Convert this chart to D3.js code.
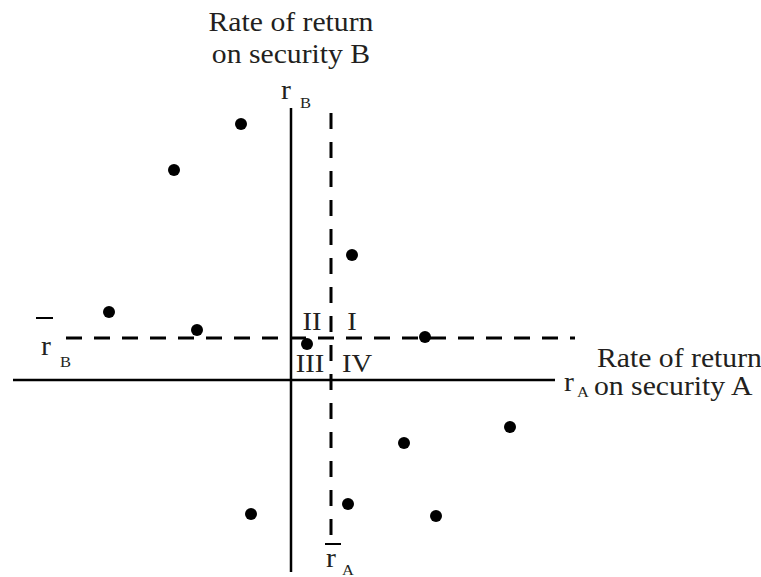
<!DOCTYPE html>
<html>
<head>
<meta charset="utf-8">
<script src="https://cdn.jsdelivr.net/npm/d3@7"></script>
<style>
  html, body { margin: 0; padding: 0; background: #fff; }
  svg { display: block; }
  text { font-family: "Liberation Serif", "Times New Roman", serif; fill: #231f20; }
</style>
</head>
<body>
<svg id="chart" width="761" height="577"></svg>
<script>
// Scatter of returns on securities A and B (arbitrary units, origin at axes crossing)
const returnsA = [-2.5, -5.85, 3.05, 6.7, -9.1, -4.7, 0.8, 5.65, 10.95, -2.0, 2.85, 7.25];
const returnsB = [12.8, 10.5, 6.25, 2.15, 3.4, 2.5, 1.8, -3.15, -2.35, -6.7, -6.2, -6.8];
const meanA = 2.0;
const meanB = 2.1;
const quadrantLabels = ["I", "II", "III", "IV"];
const axisTitleA = ["Rate of return", "on security A"];
const axisTitleB = ["Rate of return", "on security B"];

const svg = d3.select("#chart");
const x = d3.scaleLinear().domain([-14, 13.5]).range([11, 561]);
const y = d3.scaleLinear().domain([-9.6, 13.6]).range([572, 108]);
const ink = "#000";
const SX = 1.1;

function label(px, py, size, str, anchor) {
  return svg.append("text")
    .attr("transform", `translate(${px},${py}) scale(${SX},1)`)
    .attr("text-anchor", anchor || "start")
    .attr("font-size", size).text(str);
}

// solid axes
svg.append("line").attr("x1", x(-13.9)).attr("x2", x(13.2)).attr("y1", y(0)).attr("y2", y(0))
  .attr("stroke", ink).attr("stroke-width", 2.5);
svg.append("line").attr("x1", x(0)).attr("x2", x(0)).attr("y1", y(13.6)).attr("y2", y(-9.6))
  .attr("stroke", ink).attr("stroke-width", 2.5);

// dashed mean lines
svg.append("line").attr("x1", x(-11.25)).attr("x2", x(14.2)).attr("y1", y(meanB)).attr("y2", y(meanB))
  .attr("stroke", ink).attr("stroke-width", 3).attr("stroke-dasharray", "16,12");
svg.append("line").attr("x1", x(meanA)).attr("x2", x(meanA)).attr("y1", y(13.35)).attr("y2", y(-8.1))
  .attr("stroke", ink).attr("stroke-width", 3).attr("stroke-dasharray", "16,13");

// points
svg.selectAll("circle.pt").data(returnsA.map((a, i) => [a, returnsB[i]]))
  .enter().append("circle").attr("class", "pt")
  .attr("cx", d => x(d[0])).attr("cy", d => y(d[1])).attr("r", 6).attr("fill", ink);

// axis title B (top)
label(x(0), 31, 27, axisTitleB[0], "middle");
label(x(0), 63, 27, axisTitleB[1], "middle");

// r_B near top of axis
label(281, 99, 27, "r");
label(300, 108, 15, "B");

// r̄_B on left
svg.append("line").attr("x1", 36).attr("x2", 53).attr("y1", 318).attr("y2", 318).attr("stroke", ink).attr("stroke-width", 2);
label(41, 355, 27, "r");
label(60, 367, 15, "B");

// r̄_A at bottom
svg.append("line").attr("x1", 325).attr("x2", 341).attr("y1", 544).attr("y2", 544).attr("stroke", ink).attr("stroke-width", 2);
label(326, 567, 27, "r");
label(342, 575, 15, "A");

// axis title A (right)
label(597, 367, 27, axisTitleA[0]);
label(564, 391, 27, "r");
label(577, 397, 15, "A");
label(594, 395, 27, axisTitleA[1]);

// quadrant labels
const qPos = [[352, 330], [312, 330], [310, 372], [357, 372]];
qPos.forEach((p, i) => label(p[0], p[1], 26, quadrantLabels[i], "middle"));
</script>
</body>
</html>
